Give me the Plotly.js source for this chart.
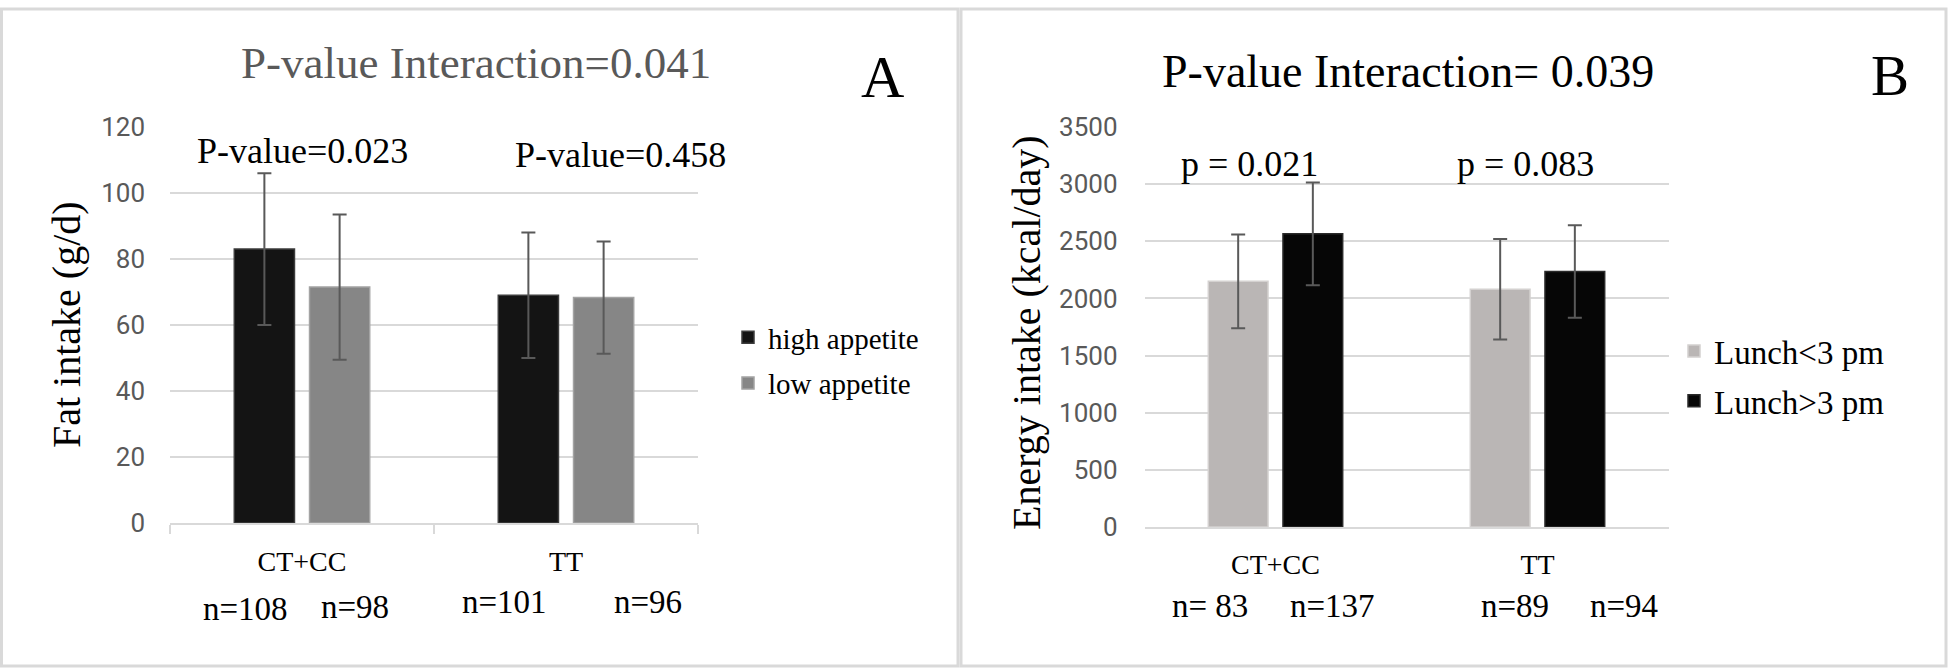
<!DOCTYPE html>
<html>
<head>
<meta charset="utf-8">
<script src="https://cdn.plot.ly/plotly-3.0.1.min.js"></script>
<style>html,body{margin:0;padding:0;background:#fff;}#chart{width:1949px;height:668px;}</style>
</head>
<body>
<div id="chart"></div>
<script>
// ---- data ----
const categories = ["CT+CC", "TT"];
const highAppetite = [83, 69];
const highAppetiteErr = [23, 19];
const lowAppetite = [71.5, 68.3];
const lowAppetiteErr = [22, 17];
const lunchBefore3 = [2150, 2080];
const lunchBefore3Err = [410, 440];
const lunchAfter3 = [2565, 2235];
const lunchAfter3Err = [450, 405];
const nLabelsA = ["n=108", "n=98", "n=101", "n=96"];
const nLabelsB = ["n= 83", "n=137", "n=89", "n=94"];
const pLabelsA = ["P-value=0.023", "P-value=0.458"];
const pLabelsB = ["p = 0.021", "p = 0.083"];

// ---- layout helpers (pixel -> paper) ----
const W = 1949, H = 668;
const px = x => x / W;
const py = y => 1 - y / H;
const SERIF = "Liberation Serif, Times New Roman, serif";
const SANS = "Roboto, Liberation Sans, sans-serif";

function errSpec(arr) {
  return {type: 'data', array: arr, visible: true, color: '#595959', thickness: 2, width: 7};
}

const traces = [
  {type: 'bar', name: 'high appetite', x: categories, y: highAppetite, error_y: errSpec(highAppetiteErr),
   xaxis: 'x', yaxis: 'y', legend: 'legend', legendgroup: 'a1',
   marker: {color: '#141414', line: {color: '#3c3c3c', width: 1.5}}},
  {type: 'bar', name: 'low appetite', x: categories, y: lowAppetite, error_y: errSpec(lowAppetiteErr),
   xaxis: 'x', yaxis: 'y', legend: 'legend', legendgroup: 'a2',
   marker: {color: '#868686', line: {color: '#a3a3a3', width: 1.5}}},
  {type: 'bar', name: 'Lunch<3 pm', x: categories, y: lunchBefore3, error_y: errSpec(lunchBefore3Err),
   xaxis: 'x2', yaxis: 'y2', legend: 'legend2', legendgroup: 'b1',
   marker: {color: '#bab6b5', line: {color: '#d4d1d0', width: 1.5}}},
  {type: 'bar', name: 'Lunch>3 pm', x: categories, y: lunchAfter3, error_y: errSpec(lunchAfter3Err),
   xaxis: 'x2', yaxis: 'y2', legend: 'legend2', legendgroup: 'b2',
   marker: {color: '#060606', line: {color: '#2a2a2a', width: 1.5}}}
];

function ann(text, x, baseline, size, color, extra) {
  return Object.assign({
    text: text, xref: 'paper', yref: 'paper', x: px(x), y: py(baseline - 0.3 * size),
    xanchor: 'center', yanchor: 'middle', showarrow: false,
    font: {family: SERIF, size: size, color: color || '#000'}
  }, extra || {});
}

const nPosA = [[246, 619], [354.5, 617], [504, 612], [647.5, 612]];
const nPosB = [[1209.5, 616], [1332, 616], [1515, 616], [1624, 616]];

const annotations = [
  ann("P-value Interaction=0.041", 476, 76.7, 45, '#595959'),
  ann("A", 882.5, 95, 60),
  ann("P-value Interaction= 0.039", 1408, 85, 46),
  ann("B", 1889.5, 93, 57),
  ann(pLabelsA[0], 302.5, 161.7, 36),
  ann(pLabelsA[1], 620, 165.7, 36),
  ann(pLabelsB[0], 1249, 175, 36),
  ann(pLabelsB[1], 1525.5, 175, 36),
  {text: "Fat intake (g/d)", xref: 'paper', yref: 'paper', x: px(67), y: py(325), textangle: -90,
   xanchor: 'center', yanchor: 'middle', showarrow: false, font: {family: SERIF, size: 40, color: '#000'}},
  {text: "Energy intake (kcal/day)", xref: 'paper', yref: 'paper', x: px(1026), y: py(333), textangle: -90,
   xanchor: 'center', yanchor: 'middle', showarrow: false, font: {family: SERIF, size: 40, color: '#000'}}
];
nLabelsA.forEach((t, i) => annotations.push(ann(t, nPosA[i][0], nPosA[i][1], 33)));
nLabelsB.forEach((t, i) => annotations.push(ann(t, nPosB[i][0], nPosB[i][1], 33)));

const gridC = '#d9d9d9';
const layout = {
  width: W, height: H,
  margin: {l: 0, r: 0, t: 0, b: 0, pad: 0},
  paper_bgcolor: '#ffffff', plot_bgcolor: 'rgba(0,0,0,0)',
  barmode: 'group', bargap: 0.43, bargroupgap: 0.2,
  showlegend: true,
  xaxis: {domain: [px(170), px(698)], anchor: 'y', type: 'category', range: [-0.5, 1.5],
    showline: true, linecolor: gridC, linewidth: 2, ticks: 'outside', tickson: 'boundaries',
    ticklen: 9, tickcolor: gridC, tickwidth: 2, showgrid: false, ticklabelstandoff: 12,
    tickfont: {family: SERIF, size: 28, color: '#000'}, fixedrange: true},
  yaxis: {domain: [py(523), py(127)], anchor: 'x', range: [0, 120], dtick: 20, tick0: 0,
    showgrid: true, gridcolor: gridC, gridwidth: 2, zeroline: false, showline: false,
    ticks: '', ticklabelstandoff: 24, tickfont: {family: SANS, size: 26, color: '#595959'}, fixedrange: true},
  xaxis2: {domain: [px(1144.5), px(1668.5)], anchor: 'y2', type: 'category', range: [-0.5, 1.5],
    showline: true, linecolor: gridC, linewidth: 2, ticks: '', showgrid: false, ticklabelstandoff: 11,
    tickfont: {family: SERIF, size: 28, color: '#000'}, fixedrange: true},
  yaxis2: {domain: [py(527), py(127)], anchor: 'x2', range: [0, 3500], dtick: 500, tick0: 0,
    showgrid: true, gridcolor: gridC, gridwidth: 2, zeroline: false, showline: false,
    ticks: '', ticklabelstandoff: 26, tickfont: {family: SANS, size: 26, color: '#595959'}, fixedrange: true},
  legend: {x: px(728), y: py(312), xanchor: 'left', yanchor: 'top', bgcolor: 'rgba(0,0,0,0)',
    traceorder: 'grouped', tracegroupgap: 5, font: {family: SERIF, size: 29, color: '#000'}},
  legend2: {x: px(1674), y: py(323), xanchor: 'left', yanchor: 'top', bgcolor: 'rgba(0,0,0,0)',
    traceorder: 'grouped', tracegroupgap: 4, font: {family: SERIF, size: 33, color: '#000'}},
  annotations: annotations,
  shapes: [
    {type: 'rect', xref: 'paper', yref: 'paper', x0: px(1.5), x1: px(958), y0: py(666), y1: py(9),
     line: {color: gridC, width: 3}},
    {type: 'rect', xref: 'paper', yref: 'paper', x0: px(961), x1: px(1946), y0: py(666), y1: py(9),
     line: {color: gridC, width: 3}}
  ]
};

Plotly.newPlot('chart', traces, layout, {staticPlot: true, displayModeBar: false});
</script>
</body>
</html>
